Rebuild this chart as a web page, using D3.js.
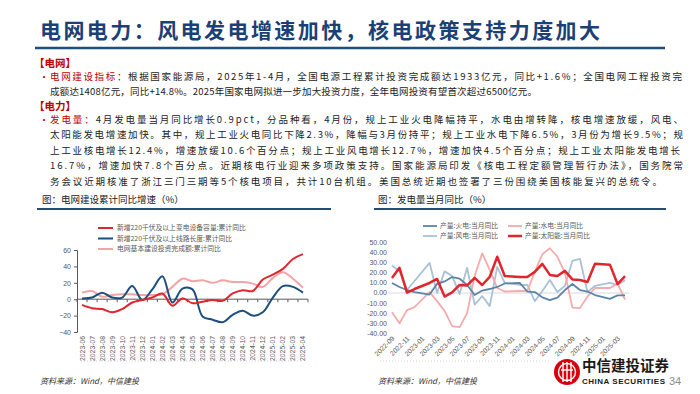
<!DOCTYPE html>
<html>
<head>
<meta charset="utf-8">
<script src="https://cdn.jsdelivr.net/npm/d3@7"></script>
<style>
  body { margin: 0; background: #fff; }
  svg { display: block; font-family: "Noto Sans CJK SC", "Noto Sans", sans-serif; }
</style>
</head>
<body>
<script>
// ---- data: left chart (cumulative yoy, %) ----
const gridMonths = ["2023-06","2023-07","2023-08","2023-09","2023-10","2023-11","2023-12",
  "2024-01","2024-02","2024-03","2024-04","2024-05","2024-06","2024-07","2024-08","2024-09",
  "2024-10","2024-11","2024-12","2025-01","2025-02","2025-03","2025-04"];
const substationCap = [-7,-11,-12,-16,-12,-4,-1,2,7,-8,1,-5,-3,-1,-2,7,11,10,24,30,37,49,55];
const lineLength = [1,2,8,2,2,16,-1,12,28,-4,13,12,-21,-25,-28,-19,-14,-20,-16,2,16,15,8];
const gridInvest = [8,10,3,5,6,6,5,5,6,15,25,22,23,20,23,21,21,19,15,26,33,25,14];
const gridTicks = [-40,-20,0,20,40,60];

// ---- data: right chart (monthly yoy, %), January not published ----
const genMonths = ["2022-09","2022-10","2022-11","2022-12","2023-01","2023-02","2023-03","2023-04",
  "2023-05","2023-06","2023-07","2023-08","2023-09","2023-10","2023-11","2023-12",
  "2024-01","2024-02","2024-03","2024-04","2024-05","2024-06","2024-07","2024-08",
  "2024-09","2024-10","2024-11","2024-12","2025-01","2025-02","2025-03","2025-04"];
const thermal = [10,6,3,1,null,-1.5,9.1,11.5,15.9,14.2,8,-2,2.5,4,6,9.5,null,10,1.5,1,-4.3,-7,-4.5,3,9,3,1.5,-2,null,-5.8,-2.3,-2.3];
const hydro = [-19,-30,-17,-14,null,1,-8,-17.8,-32.9,-33.9,-20,17,39.4,23,5,1.5,null,2,2,21,38.6,44.5,36.2,20,-14.5,-15,-3.5,5,null,5,9.5,-6.5];
const wind = [27,22,3,12,null,30,0,21.5,17,-1,25,-11.5,-3,-13,26,10,null,8,8,-8,2,13,1,7,32,34,1,7,null,10,8.2,12.7];
const solar = [15,25,0.5,4,null,10,14,-3.5,0.6,8,7.5,15,8,16,36,17,null,16,16,21,29,18,17,22,13.5,13,11,29,null,28,8.9,16.7];
const genTicks = [-40,-30,-20,-10,0,10,20,30,40,50];

const svg = d3.select("body").append("svg").attr("width", 700).attr("height", 394);
svg.append("rect").attr("width", 700).attr("height", 394).attr("fill", "#fff");

// stretch a text line to end at a given x
function fitLine(sel, x0, x1) {
  const node = sel.node();
  const w = node.getComputedTextLength();
  const n = node.textContent.length;
  if (n > 1) sel.attr("letter-spacing", (x1 - x0 - w) / (n - 1));
}

// ---- header ----
const title = svg.append("text").attr("x", 40).attr("y", 31).attr("dy", "0.35em")
  .attr("font-size", 21).attr("font-weight", 700).attr("fill", "#1a4175")
  .text("电网电力：风电发电增速加快，核电政策支持力度加大");
fitLine(title, 40, 600);
svg.append("line").attr("x1", 35).attr("x2", 665).attr("y1", 48).attr("y2", 48)
  .attr("stroke", "#1f4e79").attr("stroke-width", 2.5);

const red = "#c00000";
const body = [
  { y: 77, label: "电网建设指标：", text: "根据国家能源局，2025年1-4月，全国电源工程累计投资完成额达1933亿元，同比+1.6%；全国电网工程投资完", end: 682 },
  { y: 92, text: "成额达1408亿元，同比+14.8%。2025年国家电网拟进一步加大投资力度，全年电网投资有望首次超过6500亿元。", end: 537 },
  { y: 120, label: "发电量：", text: "4月发电量当月同比增长0.9pct，分品种看，4月份，规上工业火电降幅持平，水电由增转降，核电增速放缓，风电、", end: 683 },
  { y: 135, text: "太阳能发电增速加快。其中，规上工业火电同比下降2.3%，降幅与3月份持平；规上工业水电下降6.5%，3月份为增长9.5%；规", end: 683 },
  { y: 151, text: "上工业核电增长12.4%，增速放缓10.6个百分点；规上工业风电增长12.7%，增速加快4.5个百分点；规上工业太阳能发电增长", end: 680 },
  { y: 166, text: "16.7%，增速加快7.8个百分点。近期核电行业迎来多项政策支持。国家能源局印发《核电工程定额管理暂行办法》，国务院常", end: 683 },
  { y: 182, text: "务会议近期核准了浙江三门三期等5个核电项目，共计10台机组。美国总统近期也签署了三份围绕美国核能复兴的总统令。", end: 662 }
];
[["【电网】", 63], ["【电力】", 106]].forEach(([t, y]) => {
  svg.append("text").attr("x", 34).attr("y", y).attr("dy", "0.35em")
    .attr("font-size", 10.5).attr("font-weight", 700).attr("fill", red).text(t);
});
body.forEach(l => {
  if (l.label) {
    svg.append("text").attr("x", 39).attr("y", l.y).attr("dy", "0.35em")
      .attr("font-size", 10).attr("fill", red).text("•");
  }
  const t = svg.append("text").attr("x", 50).attr("y", l.y).attr("dy", "0.35em")
    .attr("font-size", 9.5).attr("fill", "#222");
  if (l.label) t.append("tspan").attr("fill", red).text(l.label);
  t.append("tspan").text(l.text);
  fitLine(t, 50, l.end);
});

// ---- chart titles ----
[["图：电网建设累计同比增速（%）", 42, 37, 331], ["图：发电量当月同比（%）", 378, 374, 666]].forEach(([t, x, a, b]) => {
  svg.append("text").attr("x", x).attr("y", 200).attr("dy", "0.35em")
    .attr("font-size", 9.5).attr("fill", "#222").text(t);
  svg.append("line").attr("x1", a).attr("x2", b).attr("y1", 209).attr("y2", 209)
    .attr("stroke", "#1f4e79").attr("stroke-width", 2);
});

const axisCol = "#595959";
const small = 7;

// ---- left chart ----
const xL = d3.scaleBand().domain(gridMonths).range([77, 308]);
const cx = m => xL(m) + xL.bandwidth() / 2;
const yL = d3.scaleLinear().domain([-40, 60]).range([332, 250]);

const gL = svg.append("g");
gL.append("g").attr("transform", "translate(77,0)")
  .call(d3.axisLeft(yL).tickValues(gridTicks).tickSize(3).tickPadding(3))
  .call(g => g.selectAll("text").attr("font-size", small).attr("fill", axisCol).attr("font-family", "Arial, sans-serif"))
  .call(g => g.selectAll("line,path").attr("stroke", axisCol));
gL.append("line").attr("x1", 77).attr("x2", 308).attr("y1", yL(0)).attr("y2", yL(0))
  .attr("stroke", axisCol);
gL.selectAll(".xt").data(gridMonths.concat(["end"])).enter().append("line")
  .attr("x1", (d, i) => 77 + i * xL.step()).attr("x2", (d, i) => 77 + i * xL.step())
  .attr("y1", yL(0)).attr("y2", yL(0) + 3).attr("stroke", axisCol);
gL.selectAll(".xl").data(gridMonths).enter().append("text")
  .attr("transform", d => `translate(${cx(d) + 2.5},336) rotate(-90)`)
  .attr("text-anchor", "end").attr("font-size", 6.8).attr("fill", axisCol)
  .attr("font-family", "Arial, sans-serif").text(d => d);

const leftSeries = [
  { name: "电网基本建设投资完成额:累计同比", values: gridInvest, color: "#f4a3a6", w: 2 },
  { name: "新增220千伏及以上线路长度:累计同比", values: lineLength, color: "#1b4f7d", w: 2 },
  { name: "新增220千伏及以上变电设备容量:累计同比", values: substationCap, color: "#e0262c", w: 2 }
];
const lineL = d3.line().x((d, i) => cx(gridMonths[i])).y(d => yL(d)).curve(d3.curveCatmullRom);
leftSeries.forEach(s => {
  gL.append("path").attr("d", lineL(s.values)).attr("fill", "none")
    .attr("stroke", s.color).attr("stroke-width", s.w);
});
const legL = [leftSeries[2], leftSeries[1], leftSeries[0]];
legL.forEach((s, i) => {
  const y = 228 + i * 10.5;
  gL.append("line").attr("x1", 98).attr("x2", 113).attr("y1", y).attr("y2", y)
    .attr("stroke", s.color).attr("stroke-width", 2);
  gL.append("text").attr("x", 117).attr("y", y).attr("dy", "0.35em")
    .attr("font-size", 6.8).attr("fill", axisCol).text(s.name);
});

// ---- right chart ----
const xR = d3.scaleBand().domain(genMonths).range([388.2, 628.8]);
const rx = m => xR(m) + xR.bandwidth() / 2;
const yR = d3.scaleLinear().domain([-40, 50]).range([333.3, 242.7]);

const gR = svg.append("g");
gR.selectAll(".yl").data(genTicks).enter().append("text")
  .attr("x", 387).attr("y", d => yR(d)).attr("dy", "0.35em").attr("text-anchor", "end")
  .attr("font-size", small).attr("fill", axisCol).attr("font-family", "Arial, sans-serif")
  .text(d => d.toFixed(2));
gR.append("line").attr("x1", 388).attr("x2", 629).attr("y1", yR(0)).attr("y2", yR(0))
  .attr("stroke", "#d9d9d9").attr("stroke-width", 1);
gR.selectAll(".xl").data(genMonths.filter((d, i) => i % 2 === 0)).enter().append("text")
  .attr("transform", d => `translate(${rx(d) + 3},339) rotate(-45)`)
  .attr("text-anchor", "end").attr("font-size", 6.8).attr("fill", axisCol)
  .attr("font-family", "Arial, sans-serif").text(d => d);

const rightSeries = [
  { name: "产量:火电:当月同比", values: thermal, color: "#5d84a8", w: 1.8 },
  { name: "产量:水电:当月同比", values: hydro, color: "#f5abab", w: 1.8 },
  { name: "产量:风电:当月同比", values: wind, color: "#a9c2d7", w: 1.8 },
  { name: "产量:太阳能:当月同比", values: solar, color: "#e0262c", w: 2.5 }
];
const lineR = d3.line().x(d => rx(d.m)).y(d => yR(d.v));
[2, 1, 0, 3].forEach(k => {
  const s = rightSeries[k];
  const pts = s.values.map((v, i) => ({ m: genMonths[i], v })).filter(d => d.v !== null);
  gR.append("path").attr("d", lineR(pts)).attr("fill", "none")
    .attr("stroke", s.color).attr("stroke-width", s.w).attr("stroke-linejoin", "round");
});
rightSeries.forEach((s, i) => {
  const x = i % 2 === 0 ? 423 : 508;
  const y = i < 2 ? 226 : 236;
  gR.append("line").attr("x1", x).attr("x2", x + 14).attr("y1", y).attr("y2", y)
    .attr("stroke", s.color).attr("stroke-width", s.w);
  gR.append("text").attr("x", x + 17).attr("y", y).attr("dy", "0.35em")
    .attr("font-size", 6.8).attr("fill", axisCol).text(s.name);
});

// ---- footer ----
[[81, 303], [380, 551]].forEach(([a, b]) => {
  svg.append("line").attr("x1", a).attr("x2", b).attr("y1", 361).attr("y2", 361)
    .attr("stroke", "#d0d0d0").attr("stroke-dasharray", "1,2");
});
[40, 378].forEach(x => {
  svg.append("text").attr("x", x).attr("y", 381).attr("dy", "0.35em")
    .attr("font-size", 8).attr("font-style", "italic").attr("fill", "#333")
    .text("资料来源：Wind，中信建投");
});

// logo
const logo = svg.append("g").attr("transform", "translate(567,372)");
logo.append("circle").attr("r", 13).attr("fill", "#d7000f");
logo.append("circle").attr("r", 8.5).attr("fill", "none").attr("stroke", "#fff").attr("stroke-width", 1.4);
[-4, 0, 4].forEach(dx => {
  logo.append("line").attr("x1", dx).attr("x2", dx).attr("y1", -10).attr("y2", 10)
    .attr("stroke", "#fff").attr("stroke-width", 1.4);
});
logo.append("line").attr("x1", -6).attr("x2", 6).attr("y1", -2).attr("y2", -2)
  .attr("stroke", "#fff").attr("stroke-width", 1.4);
svg.append("text").attr("x", 582).attr("y", 366).attr("dy", "0.35em")
  .attr("font-size", 14.5).attr("font-weight", 700).attr("fill", "#1a1a1a").text("中信建投证券");
const en = svg.append("text").attr("x", 582).attr("y", 381).attr("dy", "0.35em")
  .attr("font-size", 8).attr("font-weight", 700).attr("fill", "#1a1a1a")
  .attr("font-family", "Arial, sans-serif").text("CHINA SECURITIES");
fitLine(en, 582, 665);
svg.append("text").attr("x", 669).attr("y", 381).attr("dy", "0.35em")
  .attr("font-size", 11).attr("fill", "#8c8c8c").attr("font-family", "Arial, sans-serif").text("34");
</script>
</body>
</html>
